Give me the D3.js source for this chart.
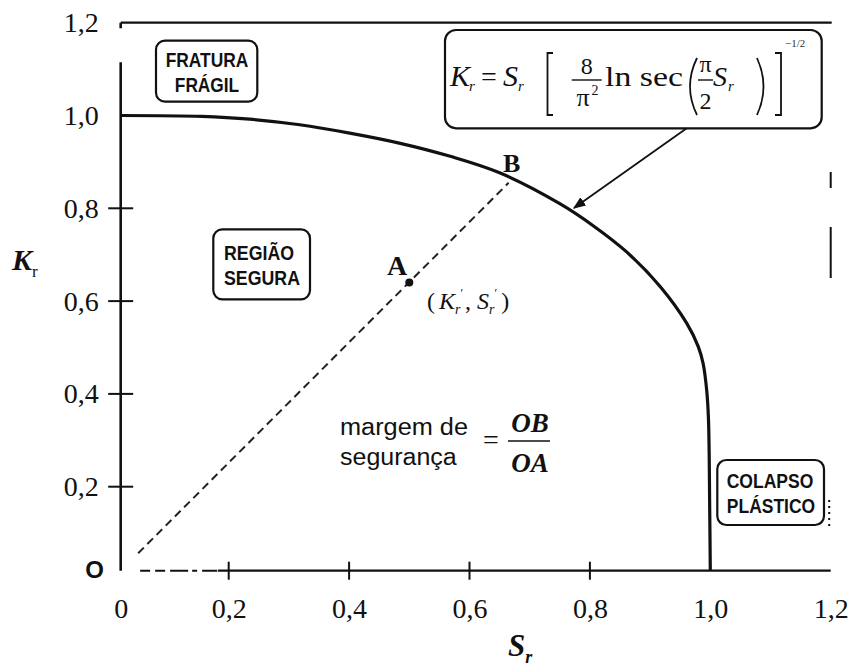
<!DOCTYPE html>
<html>
<head>
<meta charset="utf-8">
<script src="https://cdn.jsdelivr.net/npm/d3@7"></script>
<style>
  html, body { margin: 0; padding: 0; background: #fff; }
  svg { display: block; }
</style>
</head>
<body>
<svg id="chart" width="854" height="667"></svg>
<script>
// Failure assessment curve Kr(Sr), sampled along the drawn line
const srValues = [0, 0.15, 0.235, 0.318, 0.401, 0.485, 0.568, 0.651, 0.750, 0.806, 0.861, 0.917, 0.961, 0.980, 0.988, 0.994, 0.997, 0.999, 1.0];
const krValues = [1.0, 0.998, 0.992, 0.980, 0.962, 0.940, 0.912, 0.876, 0.810, 0.762, 0.706, 0.631, 0.552, 0.502, 0.466, 0.408, 0.344, 0.15, 0.0];

// Assessment point A and its projection B on the curve
const pointA = { sr: 0.50, kr: 0.64 };
const pointB = { sr: 0.665, kr: 0.855 };
const origin = { sr: 0, kr: 0 };

const xTickValues = [0, 0.2, 0.4, 0.6, 0.8, 1.0, 1.2];
const xTickLabels = ["0", "0,2", "0,4", "0,6", "0,8", "1,0", "1,2"];
const yTickValues = [0.2, 0.4, 0.6, 0.8, 1.0, 1.2];
const yTickLabels = ["0,2", "0,4", "0,6", "0,8", "1,0", "1,2"];
const crossTicks = [0.2, 0.4, 0.6, 0.8];

const serif = "'Liberation Serif','Times New Roman',Times,serif";
const sans = "'Liberation Sans',Arial,Helvetica,sans-serif";
const ink = "#111";

const svg = d3.select("#chart");

// the first 0.2 step of each axis is drawn a little shorter than the rest
const x = d3.scaleLinear().domain([0, 0.2, 1.2]).range([120.7, 228.7, 830.7]);
const y = d3.scaleLinear().domain([0, 0.2, 1.2]).range([570.7, 486.7, 22.7]);

const seg = (x1, y1, x2, y2, w, dash) => {
  const l = svg.append("line")
    .attr("x1", x1).attr("y1", y1).attr("x2", x2).attr("y2", y2)
    .attr("stroke", ink).attr("stroke-width", w);
  if (dash) l.attr("stroke-dasharray", dash);
  return l;
};

// ---- frame ----
seg(x(0), y(1.2), x(1.2) + 1, y(1.2), 2.2);
// broken right-hand border
seg(x(1.2), 172, x(1.2), 188, 2);
seg(x(1.2), 227, x(1.2), 278, 2);
seg(x(1.2) - 1.5, 500, x(1.2) - 1.5, 528, 2, "2,4");

// ---- y axis ----
seg(x(0), y(1.2), x(0), y(1.188), 2.6);
seg(x(0), y(1.115), x(0), y(0), 2.6);
crossTicks.forEach(v => seg(x(0) - 12.5, y(v), x(0) + 12.5, y(v), 2));

const gy = svg.append("g")
  .attr("transform", `translate(${x(0)},0)`)
  .call(d3.axisLeft(y).tickValues(yTickValues)
    .tickFormat((d, i) => yTickLabels[i]).tickSize(0).tickPadding(22));
gy.select(".domain").remove();
gy.attr("font-family", null);
gy.selectAll("text").style("font-family", serif).style("font-size", "28px").attr("fill", ink);

// ---- x axis ----
seg(x(0.036), y(0), x(0.18), y(0), 2, "10,5,10,5,18,4,5,5,15");
seg(x(0.18), y(0), x(1.2), y(0), 2.2);
crossTicks.forEach(v => seg(x(v), y(0) - 9, x(v), y(0) + 9, 2));

const gx = svg.append("g")
  .attr("transform", `translate(0,${y(0)})`)
  .call(d3.axisBottom(x).tickValues(xTickValues)
    .tickFormat((d, i) => xTickLabels[i]).tickSize(0).tickPadding(27));
gx.select(".domain").remove();
gx.attr("font-family", null);
gx.selectAll("text").style("font-family", serif).style("font-size", "28px").attr("fill", ink);

// origin label
svg.append("text").attr("x", 94.5).attr("y", 578).attr("text-anchor", "middle")
  .attr("font-family", sans).attr("font-weight", "bold").attr("font-size", 24)
  .attr("fill", ink).text("O");

// axis titles
const kLabel = svg.append("text").attr("x", 12).attr("y", 270)
  .attr("font-family", serif).attr("fill", ink);
kLabel.append("tspan").attr("font-size", 30).attr("font-style", "italic")
  .attr("font-weight", "bold").text("K");
kLabel.append("tspan").attr("font-size", 17).attr("dy", 7).text("r");

const sLabel = svg.append("text").attr("x", 508).attr("y", 656)
  .attr("font-family", serif).attr("fill", ink);
sLabel.append("tspan").attr("font-size", 31).attr("font-style", "italic")
  .attr("font-weight", "bold").text("S");
sLabel.append("tspan").attr("font-size", 18).attr("font-style", "italic")
  .attr("font-weight", "bold").attr("dy", 7).text("r");

// ---- curve ----
const curve = d3.line()
  .x(d => x(d[0])).y(d => y(d[1]))
  .curve(d3.curveCatmullRom.alpha(0.5));
svg.append("path")
  .datum(d3.zip(srValues, krValues))
  .attr("d", curve)
  .attr("fill", "none").attr("stroke", ink)
  .attr("stroke-width", 3.2).attr("stroke-linejoin", "round");

// ---- safety margin line O -> B through A ----
const p0 = [x(origin.sr), y(origin.kr)];
const pB = [x(pointB.sr), y(pointB.kr)];
const pStart = d3.interpolateArray(p0, pB)(0.045);
seg(pStart[0], pStart[1], pB[0], pB[1], 2, "8,5").attr("stroke", "#222");

svg.append("circle").attr("cx", x(pointA.sr)).attr("cy", y(pointA.kr))
  .attr("r", 4).attr("fill", ink);

svg.append("text").attr("x", 387).attr("y", 275)
  .attr("font-family", serif).attr("font-weight", "bold").attr("font-size", 28)
  .attr("fill", ink).text("A");
svg.append("text").attr("x", 503).attr("y", 172)
  .attr("font-family", serif).attr("font-weight", "bold").attr("font-size", 26)
  .attr("fill", ink).text("B");

// (K'r , S'r)
const ks = svg.append("text").attr("x", 427).attr("y", 309)
  .attr("font-family", serif).attr("font-size", 24).attr("fill", ink);
ks.append("tspan").text("(");
ks.append("tspan").attr("dx", 4).attr("font-style", "italic").text("K");
ks.append("tspan").attr("font-size", 14).attr("font-style", "italic").attr("dy", 5).text("r");
ks.append("tspan").attr("font-size", 12).attr("dy", -17).text("′");
ks.append("tspan").attr("dy", 12).attr("dx", 2).text(", ");
ks.append("tspan").attr("font-style", "italic").text("S");
ks.append("tspan").attr("font-size", 14).attr("font-style", "italic").attr("dy", 5).text("r");
ks.append("tspan").attr("font-size", 12).attr("dy", -17).text("′");
ks.append("tspan").attr("dy", 12).attr("dx", 4).text(")");

// ---- region boxes ----
const box = (x0, y0, x1, y1) => svg.append("rect")
  .attr("x", x0).attr("y", y0).attr("width", x1 - x0).attr("height", y1 - y0)
  .attr("rx", 9).attr("ry", 9)
  .attr("fill", "#fff").attr("stroke", ink).attr("stroke-width", 2.2);

const boxText = (str, cx, base, len) => svg.append("text")
  .attr("x", cx).attr("y", base).attr("text-anchor", "middle")
  .attr("font-family", sans).attr("font-weight", "bold").attr("font-size", 20)
  .attr("textLength", len).attr("lengthAdjust", "spacingAndGlyphs")
  .attr("fill", ink).text(str);

box(156, 40.7, 257.3, 101.7);
boxText("FRATURA", 207, 66.7, 82.6);
boxText("FRÁGIL", 207, 91.7, 64.3);

box(213.3, 229.3, 310, 299.3);
boxText("REGIÃO", 259, 260, 70);
boxText("SEGURA", 262, 285, 76);

box(717.3, 460, 824, 525);
boxText("COLAPSO", 770, 488.3, 86.6);
boxText("PLÁSTICO", 771, 513.3, 88.3);

// ---- formula box ----
box(445, 30, 821.7, 128.3).attr("rx", 11).attr("ry", 11);

const ftxt = (str, fx, fy, size, opts = {}) => {
  const t = svg.append("text").attr("x", fx).attr("y", fy)
    .attr("font-family", serif).attr("font-size", size).attr("fill", ink)
    .text(str);
  if (opts.italic) t.attr("font-style", "italic");
  if (opts.anchor) t.attr("text-anchor", opts.anchor);
  if (opts.len) t.attr("textLength", opts.len).attr("lengthAdjust", "spacingAndGlyphs");
  return t;
};
const fpath = (d, w) => svg.append("path").attr("d", d)
  .attr("fill", "none").attr("stroke", ink).attr("stroke-width", w);

ftxt("K", 450, 86, 30, { italic: true });
ftxt("r", 469, 91, 15, { italic: true });
ftxt("=", 481, 86, 28);
ftxt("S", 503, 86, 30, { italic: true });
ftxt("r", 518, 91, 15, { italic: true });
fpath("M553,53 H547.5 V115 H553", 1.8);
ftxt("8", 586.7, 74, 24, { anchor: "middle" });
seg(571.7, 80, 601.7, 80, 1.4);
ftxt("π", 583, 106, 26, { anchor: "middle" });
ftxt("2", 595, 95, 14, { anchor: "middle" });
ftxt("ln sec", 605, 86, 28, { len: 78 });
fpath("M697,58 Q683,86.5 697,115", 1.8);
ftxt("π", 705.5, 72, 24, { anchor: "middle" });
seg(698, 80, 713, 80, 1.4);
ftxt("2", 705.5, 109, 24, { anchor: "middle" });
ftxt("S", 713, 86, 28, { italic: true });
ftxt("r", 728, 91, 15, { italic: true });
fpath("M757,58 Q770,86.5 757,115", 1.8);
fpath("M775,53 H781 V115 H775", 1.8);
ftxt("−1/2", 785, 47, 11).attr("fill", "#333");

// arrow from the formula to the curve
svg.append("defs").append("marker")
  .attr("id", "arrowhead").attr("viewBox", "0 0 10 10")
  .attr("refX", 9).attr("refY", 5)
  .attr("markerWidth", 7).attr("markerHeight", 7)
  .attr("orient", "auto-start-reverse")
  .append("path").attr("d", "M0,1 L10,5 L0,9 Z").attr("fill", ink);
seg(686.7, 128.3, 574, 208, 1.8).attr("marker-end", "url(#arrowhead)");

// ---- safety margin expression ----
svg.append("text").attr("x", 340).attr("y", 435)
  .attr("font-family", sans).attr("font-size", 23).attr("fill", ink)
  .attr("textLength", 128).attr("lengthAdjust", "spacingAndGlyphs")
  .text("margem de");
svg.append("text").attr("x", 340).attr("y", 465)
  .attr("font-family", sans).attr("font-size", 23).attr("fill", ink)
  .attr("textLength", 116.7).attr("lengthAdjust", "spacingAndGlyphs")
  .text("segurança");
ftxt("=", 483, 449, 28);
ftxt("OB", 530, 432, 27, { italic: true, anchor: "middle" }).attr("font-weight", "bold");
seg(508, 441, 550, 441, 1.5);
ftxt("OA", 530, 471.7, 27, { italic: true, anchor: "middle" }).attr("font-weight", "bold");
</script>
</body>
</html>
